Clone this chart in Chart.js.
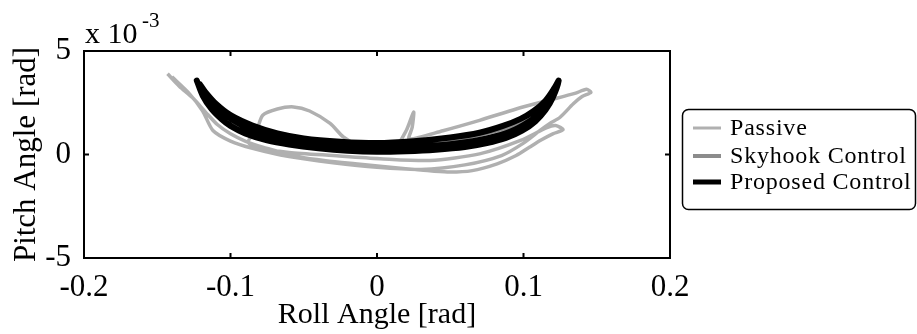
<!DOCTYPE html>
<html>
<head>
<meta charset="utf-8">
<script src="https://cdn.jsdelivr.net/npm/chart.js@4"></script>
<style>
  html, body { margin: 0; padding: 0; background: #fff; }
  #grafico { display: block; }
</style>
</head>
<body>
<canvas id="grafico" width="917" height="334"></canvas>
<script>

// tick labels
const xTicks = [-0.2, -0.1, 0, 0.1, 0.2];
const yTicks = [-5, 0, 5];   // pitch in units of 1e-3 rad

const nombres = ['Passive', 'Skyhook Control', 'Proposed Control'];

// Passive (roll rad, pitch x1e-3 rad)
const pasivoRoll = [-0.143, -0.135, -0.126, -0.117, -0.109, -0.1, -0.09, -0.078, -0.065, -0.053, -0.035, -0.015, 0.009, 0.03, 0.048, 0.065, 0.082, 0.095, 0.104, 0.112, 0.12, 0.127, 0.122, 0.116, 0.098, 0.07, 0.036, 0.002, -0.03, -0.06, -0.08, -0.088, -0.082, -0.078, -0.068, -0.057, -0.046, -0.032, -0.023, -0.012, 0.0, 0.011, 0.02, 0.025, 0.024, 0.022, 0.045, 0.07, 0.095, 0.116, 0.135, 0.143, 0.146, 0.14, 0.134, 0.125, 0.118, 0.112, 0.1, 0.085, 0.06, 0.03, 0.0, -0.03, -0.06, -0.085, -0.1, -0.112, -0.119, -0.128, -0.14];
const pasivoPitch = [3.9, 3.3, 2.75, 2.05, 1.45, 1.0, 0.65, 0.35, 0.1, -0.12, -0.3, -0.45, -0.62, -0.75, -0.85, -0.78, -0.45, -0.05, 0.35, 0.7, 1.0, 1.2, 1.4, 1.3, 0.68, 0.03, -0.29, -0.2, -0.05, 0.1, 0.3, 0.6, 1.2, 1.9, 2.2, 2.3, 2.1, 1.5, 0.85, 0.4, 0.15, 0.2, 1.16, 2.05, 1.3, 0.75, 1.15, 1.65, 2.2, 2.6, 2.95, 3.15, 3.0, 2.8, 2.45, 1.8, 1.5, 1.2, 0.55, -0.05, -0.5, -0.72, -0.62, -0.4, -0.1, 0.3, 0.65, 1.16, 2.1, 2.93, 3.75];

// Skyhook Control
const skyRoll = [-0.12, -0.11, -0.095, -0.07, -0.04, 0.0, 0.04, 0.07, 0.095, 0.11, 0.12, 0.115, 0.1, 0.075, 0.04, 0.0, -0.04, -0.075, -0.1, -0.115];
const skyPitch = [3.3, 2.3, 1.5, 0.85, 0.5, 0.3, 0.4, 0.75, 1.3, 2.0, 2.9, 2.4, 1.6, 1.0, 0.55, 0.4, 0.55, 1.0, 1.7, 2.6];

// Proposed Control
const propRoll = [-0.123, -0.119, -0.113, -0.106, -0.1, -0.09, -0.075, -0.06, -0.04, -0.02, 0, 0.02, 0.04, 0.06, 0.075, 0.088, 0.099, 0.108, 0.115, 0.12, 0.124,
  0.121, 0.115, 0.107, 0.098, 0.086, 0.07, 0.05, 0.025, 0, -0.025, -0.05, -0.068, -0.085, -0.1, -0.11, -0.117, -0.121,
  -0.114, -0.105, -0.093, -0.075, -0.05, -0.025, 0, 0.025, 0.05, 0.07, 0.088, 0.1, 0.11, 0.117, 0.122];
const propPitch = [3.57, 2.85, 2.2, 1.7, 1.38, 1.02, 0.68, 0.48, 0.3, 0.18, 0.13, 0.16, 0.23, 0.36, 0.55, 0.8, 1.15, 1.6, 2.15, 2.75, 3.57,
  3.2, 2.6, 2.1, 1.72, 1.38, 1.05, 0.82, 0.64, 0.55, 0.62, 0.78, 1.02, 1.4, 1.9, 2.45, 3.0, 3.4,
  2.7, 2.0, 1.45, 0.92, 0.55, 0.38, 0.33, 0.38, 0.5, 0.7, 1.02, 1.42, 1.92, 2.5, 3.1];

const colores = ['#b0b0b0', '#8c8c8c', '#000000'];
const grosor = [3.5, 3, 6];

function puntos(rx, ry) {
  return rx.map((r, i) => ({ x: r, y: ry[i] }));
}

const fuente = 'Liberation Serif, Times New Roman, serif';

// marco, ticks hacia adentro, legend y "x 10^-3"
const extras = {
  id: 'extras',
  afterDraw(chart) {
    const ctx = chart.ctx;
    const a = chart.chartArea;
    const sx = chart.scales.x;
    const sy = chart.scales.y;
    ctx.save();
    ctx.strokeStyle = '#000';
    ctx.lineWidth = 2;
    ctx.strokeRect(a.left, a.top, a.right - a.left, a.bottom - a.top);
    ctx.beginPath();
    xTicks.forEach(v => {
      if (v === xTicks[0] || v === xTicks[xTicks.length - 1]) return;
      const px = sx.getPixelForValue(v);
      ctx.moveTo(px, a.bottom); ctx.lineTo(px, a.bottom - 5);
      ctx.moveTo(px, a.top); ctx.lineTo(px, a.top + 5);
    });
    yTicks.forEach(v => {
      if (v === yTicks[0] || v === yTicks[yTicks.length - 1]) return;
      const py = sy.getPixelForValue(v);
      ctx.moveTo(a.left, py); ctx.lineTo(a.left + 5, py);
      ctx.moveTo(a.right, py); ctx.lineTo(a.right - 5, py);
    });
    ctx.stroke();

    // exponent
    ctx.fillStyle = '#000';
    ctx.textBaseline = 'alphabetic';
    ctx.textAlign = 'left';
    ctx.font = '30px ' + fuente;
    ctx.fillText('x 10', 85, 43);
    ctx.font = '21px ' + fuente;
    ctx.fillText('-3', 142, 27);

    // legend
    const bx = 682.5, by = 109.5, bw = 233, bh = 100;
    ctx.lineWidth = 1.5;
    ctx.beginPath();
    ctx.roundRect(bx, by, bw, bh, 6);
    ctx.stroke();
    const filas = [128, 156, 182];
    ctx.font = '24px ' + fuente;
    ctx.textBaseline = 'middle';
    if ('letterSpacing' in ctx) ctx.letterSpacing = '0.8px';
    nombres.forEach((n, i) => {
      ctx.strokeStyle = colores[i];
      ctx.lineWidth = [3, 4, 5][i];
      ctx.beginPath();
      ctx.moveTo(693, filas[i]);
      ctx.lineTo(721, filas[i]);
      ctx.stroke();
      ctx.fillText(n, 730, filas[i] + 1);
    });
    ctx.restore();
  }
};

const grafico = new Chart(document.getElementById('grafico'), {
  type: 'scatter',
  data: {
    datasets: [
      {
        label: nombres[0],
        data: puntos(pasivoRoll, pasivoPitch),
        borderColor: colores[0],
        borderWidth: grosor[0],
        showLine: true,
        pointRadius: 0,
        tension: 0.25,
        order: 3
      },
      {
        label: nombres[1],
        data: puntos(skyRoll, skyPitch),
        borderColor: colores[1],
        borderWidth: grosor[1],
        showLine: true,
        pointRadius: 0,
        tension: 0.3,
        order: 2
      },
      {
        label: nombres[2],
        data: puntos(propRoll, propPitch),
        borderColor: colores[2],
        borderWidth: grosor[2],
        showLine: true,
        pointRadius: 0,
        tension: 0.3,
        borderCapStyle: 'round',
        borderJoinStyle: 'round',
        order: 1
      }
    ]
  },
  options: {
    responsive: false,
    animation: false,
    devicePixelRatio: 1,
    layout: { padding: { top: 51, right: 247, bottom: 0, left: 0 } },
    plugins: {
      legend: { display: false },
      tooltip: { enabled: false }
    },
    scales: {
      x: {
        type: 'linear',
        min: -0.2,
        max: 0.2,
        afterBuildTicks: s => { s.ticks = xTicks.map(v => ({ value: v })); },
        afterFit: s => { s.height = 76; },
        grid: { display: false },
        border: { display: false },
        ticks: {
          color: '#000',
          font: { family: fuente, size: 31 },
          padding: 3,
          maxRotation: 0,
          autoSkip: false,
          callback: v => String(v)
        },
        title: {
          display: true,
          text: 'Roll Angle [rad]',
          color: '#000',
          font: { family: fuente, size: 30 },
          padding: { top: 0, bottom: 1 }
        }
      },
      y: {
        type: 'linear',
        min: -5,
        max: 5,
        afterBuildTicks: s => { s.ticks = yTicks.map(v => ({ value: v })); },
        afterFit: s => { s.width = 84; },
        grid: { display: false },
        border: { display: false },
        ticks: {
          color: '#000',
          font: { family: fuente, size: 31 },
          padding: 5,
          autoSkip: false,
          callback: v => String(v)
        },
        title: {
          display: true,
          text: 'Pitch Angle [rad]',
          color: '#000',
          font: { family: fuente, size: 31 },
          padding: { top: 8, bottom: 0 }
        }
      }
    }
  },
  plugins: [extras]
});
</script>
</body>
</html>
